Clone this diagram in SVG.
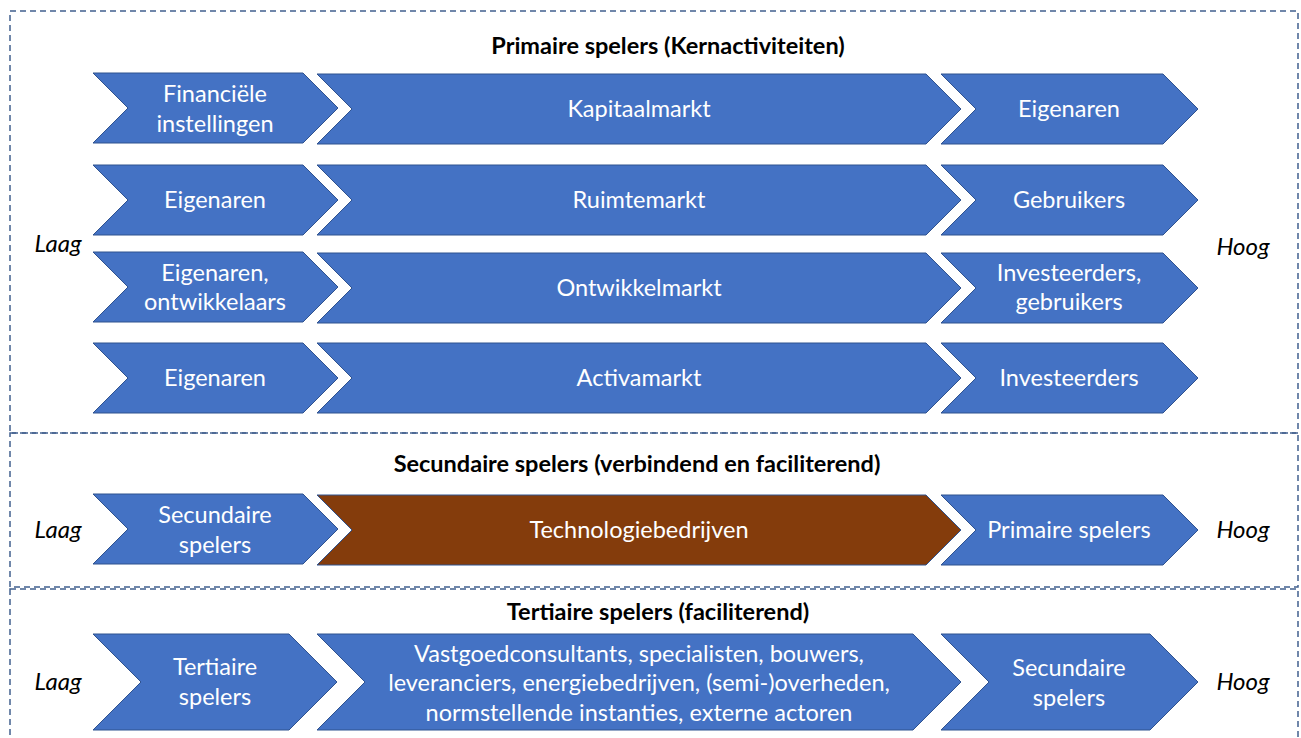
<svg xmlns="http://www.w3.org/2000/svg" width="1301" height="738" viewBox="0 0 1301 738">
<style>
.box{fill:none;stroke:#41608F;stroke-width:1.5;stroke-dasharray:6 4}
.ch{fill:#4472C4;stroke:#2F528F;stroke-width:1}
.br{fill:#843C0C;stroke:#2F528F;stroke-width:1}
.t{font-family:Lato,"Open Sans",sans-serif;font-size:23.5px;fill:#fff;text-anchor:middle}
.h{font-family:Lato,"Open Sans",sans-serif;font-size:23.5px;font-weight:bold;fill:#000;text-anchor:middle}
.s{font-family:Lato,"Open Sans",sans-serif;font-size:24px;font-style:italic;fill:#000;text-anchor:middle}
</style>
<rect width="1301" height="738" fill="#fff"/>
<g id="frames">
<rect class="box" x="10" y="11" width="1288" height="422"/>
<rect class="box" x="10" y="433" width="1288" height="154"/>
<rect class="box" x="10" y="589" width="1288" height="170"/>
</g>
<g id="headings">
<text class="h" x="668" y="54">Primaire spelers (Kernactiviteiten)</text>
<text class="h" x="637" y="472">Secundaire spelers (verbindend en faciliterend)</text>
<text class="h" x="658" y="620">Tertiaire spelers (faciliterend)</text>
</g>
<g id="scale">
<text class="s" x="58" y="252">Laag</text>
<text class="s" x="1243" y="255">Hoog</text>
<text class="s" x="58" y="538">Laag</text>
<text class="s" x="1243" y="538">Hoog</text>
<text class="s" x="58" y="690">Laag</text>
<text class="s" x="1243" y="690">Hoog</text>
</g>
<g id="connectors"></g>
<!-- row 1 -->
<g id="r1a"><polygon class="ch" points="93,73 303,73 338,108 303,143 93,143 128,108"/><text class="t" x="215" y="102">Financiële</text><text class="t" x="215" y="132">instellingen</text></g>
<g id="r1b"><polygon class="ch" points="317,74 926,74 961,109 926,144 317,144 352,109"/><text class="t" x="639" y="117">Kapitaalmarkt</text></g>
<g id="r1c"><polygon class="ch" points="941,74 1163,74 1198,109 1163,144 941,144 976,109"/><text class="t" x="1069" y="117">Eigenaren</text></g>
<!-- row 2 -->
<g id="r2a"><polygon class="ch" points="93,165 303,165 338,200 303,235 93,235 128,200"/><text class="t" x="215" y="208">Eigenaren</text></g>
<g id="r2b"><polygon class="ch" points="317,165 926,165 961,200 926,235 317,235 352,200"/><text class="t" x="639" y="208">Ruimtemarkt</text></g>
<g id="r2c"><polygon class="ch" points="941,165 1163,165 1198,200 1163,235 941,235 976,200"/><text class="t" x="1069" y="208">Gebruikers</text></g>
<!-- row 3 -->
<g id="r3a"><polygon class="ch" points="93,252 303,252 338,287 303,322 93,322 128,287"/><text class="t" x="215" y="281">Eigenaren,</text><text class="t" x="215" y="310">ontwikkelaars</text></g>
<g id="r3b"><polygon class="ch" points="317,253 926,253 961,288 926,323 317,323 352,288"/><text class="t" x="639" y="296">Ontwikkelmarkt</text></g>
<g id="r3c"><polygon class="ch" points="941,253 1163,253 1198,288 1163,323 941,323 976,288"/><text class="t" x="1069" y="281">Investeerders,</text><text class="t" x="1069" y="310">gebruikers</text></g>
<!-- row 4 -->
<g id="r4a"><polygon class="ch" points="93,343 303,343 338,378 303,413 93,413 128,378"/><text class="t" x="215" y="386">Eigenaren</text></g>
<g id="r4b"><polygon class="ch" points="317,343 926,343 961,378 926,413 317,413 352,378"/><text class="t" x="639" y="386">Activamarkt</text></g>
<g id="r4c"><polygon class="ch" points="941,343 1163,343 1198,378 1163,413 941,413 976,378"/><text class="t" x="1069" y="386">Investeerders</text></g>
<!-- secondary -->
<g id="s1"><polygon class="ch" points="93,494 303,494 338,529 303,564 93,564 128,529"/><text class="t" x="215" y="523">Secundaire</text><text class="t" x="215" y="553">spelers</text></g>
<g id="s2"><polygon class="br" points="317,495 926,495 961,530 926,565 317,565 352,530"/><text class="t" x="639" y="538">Technologiebedrijven</text></g>
<g id="s3"><polygon class="ch" points="941,495 1163,495 1198,530 1163,565 941,565 976,530"/><text class="t" x="1069" y="538">Primaire spelers</text></g>
<!-- tertiary -->
<g id="t1"><polygon class="ch" points="93,634 289,634 337,682 289,730 93,730 141,682"/><text class="t" x="215" y="675">Tertiaire</text><text class="t" x="215" y="705">spelers</text></g>
<g id="t2"><polygon class="ch" points="317,634 913,634 961,682 913,730 317,730 365,682"/><text class="t" x="639" y="662">Vastgoedconsultants, specialisten, bouwers,</text><text class="t" x="639" y="691">leveranciers, energiebedrijven, (semi-)overheden,</text><text class="t" x="639" y="721">normstellende instanties, externe actoren</text></g>
<g id="t3"><polygon class="ch" points="941,634 1150,634 1198,682 1150,730 941,730 989,682"/><text class="t" x="1069" y="676">Secundaire</text><text class="t" x="1069" y="706">spelers</text></g>
</svg>
